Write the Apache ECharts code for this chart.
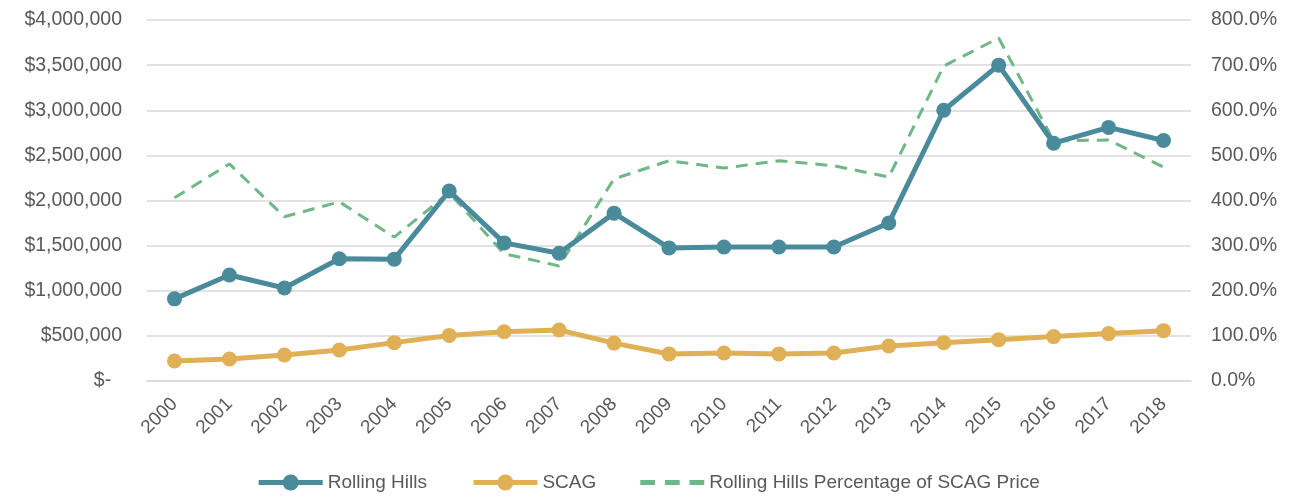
<!DOCTYPE html>
<html><head><meta charset="utf-8">
<script src="https://cdn.jsdelivr.net/npm/echarts@6/dist/echarts.min.js"></script>
<style>html,body{margin:0;padding:0;background:#fff}#c{width:1296px;height:500px}</style>
</head><body><div id="c"></div>
<script>
const years = ['2000','2001','2002','2003','2004','2005','2006','2007','2008','2009','2010','2011','2012','2013','2014','2015','2016','2017','2018'];
const rollingHills = [910000,1175000,1030000,1355000,1350000,2105000,1530000,1415000,1860000,1475000,1485000,1485000,1485000,1750000,3000000,3500000,2635000,2810000,2665000];
const scag = [222000,244000,288000,343000,425000,505000,545000,565000,420000,300000,310000,300000,310000,388000,425000,458000,492000,525000,558000];
const pctOfScag = [406,481,364,397,319,417,282,255,448,488,472,488,477,452,698,760,532,534,474];

const chart = echarts.init(document.getElementById('c'));
const fam = 'Liberation Sans, Arial, sans-serif';
const dashIcon = 'path://M0,0h12v4h-12zM20,0h12v4h-12zM40,0h12v4h-12z';
chart.setOption({
  animation:false,
  grid:{left:147,right:105,top:20,bottom:119},
  legend:{top:468,left:'center',itemGap:44,itemWidth:64,itemHeight:20,
    lineStyle:{width:5},
    textStyle:{fontFamily:fam,fontSize:19,color:'#595959'},
    data:[{name:'Rolling Hills'},{name:'SCAG'},
      {name:'Rolling Hills Percentage of SCAG Price',icon:dashIcon,itemHeight:16,itemStyle:{color:'#6DB886'}}]},
  xAxis:{type:'category',data:years,boundaryGap:true,
    axisLine:{lineStyle:{color:'#d9d9d9',width:1.5}},axisTick:{show:false},
    axisLabel:{rotate:45,fontFamily:fam,fontSize:19,color:'#595959',margin:20,interval:0}},
  yAxis:[
    {type:'value',min:0,max:4000000,interval:500000,
     axisLine:{show:false},axisTick:{show:false},
     splitLine:{lineStyle:{color:'#d9d9d9',width:1.5}},
     axisLabel:{fontFamily:fam,fontSize:19.5,color:'#595959',margin:25,
       formatter:v=>v===0?'$-  ':'$'+v.toLocaleString('en-US')}},
    {type:'value',min:0,max:800,interval:100,
     axisLine:{show:false},axisTick:{show:false},splitLine:{show:false},
     axisLabel:{fontFamily:fam,fontSize:19.5,color:'#595959',margin:20,
       formatter:v=>v.toFixed(1)+'%'}}
  ],
  series:[
    {name:'Rolling Hills',type:'line',data:rollingHills,yAxisIndex:0,
     symbol:'circle',symbolSize:15,lineStyle:{width:5,color:'#4A8B9B'},itemStyle:{color:'#4A8B9B'},z:3},
    {name:'SCAG',type:'line',data:scag,yAxisIndex:0,
     symbol:'circle',symbolSize:15,lineStyle:{width:5,color:'#DFB056'},itemStyle:{color:'#DFB056'},z:2},
    {name:'Rolling Hills Percentage of SCAG Price',type:'line',data:pctOfScag,yAxisIndex:1,
     symbol:'none',lineStyle:{width:3,color:'#6DB886',type:[12,8]},itemStyle:{color:'#6DB886'},z:1}
  ]
});
</script></body></html>
